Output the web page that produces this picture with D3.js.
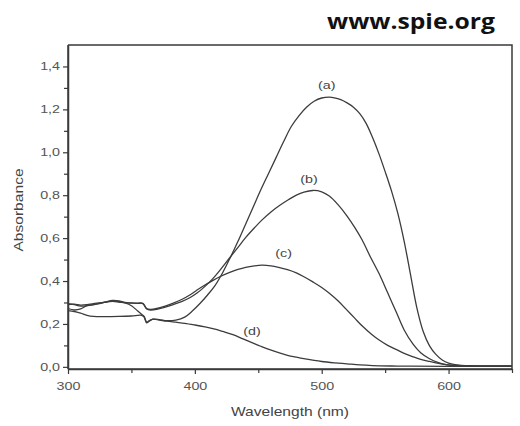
<!DOCTYPE html>
<html>
<head>
<meta charset="utf-8">
<script src="https://cdn.jsdelivr.net/npm/d3@7"></script>
<style>
html,body{margin:0;padding:0;background:#fff;}
svg{display:block;}
</style>
</head>
<body>
<svg id="chart" width="520" height="426"></svg>
<script>
// ---- data ----
const xTicks = [300, 400, 500, 600];
const xMinorTicks = [350, 450, 550, 650];
const yTicks = [0.0, 0.2, 0.4, 0.6, 0.8, 1.0, 1.2, 1.4];
const yMinorTicks = [0.1, 0.3, 0.5, 0.7, 0.9, 1.1, 1.3];
const seriesNames = ["(a)", "(b)", "(c)", "(d)"];

const wlA = [300,305,310,315,320,325,330,335,340,345,350,355,358,360,362,364,367,372,378,385,392,398,404,410,416,422,428,434,440,446,452,458,464,470,476,482,488,494,500,506,510,515,520,525,530,535,540,545,550,555,560,565,570,575,580,585,590,595,600,605,610,620,630,640,650];
const absA = [0.272,0.265,0.27,0.285,0.29,0.295,0.303,0.308,0.305,0.298,0.285,0.26,0.245,0.235,0.208,0.215,0.222,0.22,0.215,0.218,0.232,0.26,0.295,0.335,0.38,0.44,0.51,0.585,0.665,0.745,0.825,0.9,0.975,1.05,1.12,1.17,1.21,1.238,1.253,1.257,1.254,1.245,1.23,1.21,1.18,1.135,1.07,0.995,0.91,0.82,0.715,0.585,0.43,0.275,0.165,0.098,0.058,0.032,0.017,0.01,0.007,0.005,0.004,0.004,0.004];

const wlB = [300,305,310,315,320,325,330,335,340,345,350,355,359,362,365,370,376,383,390,396,402,408,414,420,427,434,440,447,453,460,467,474,480,486,493,500,506,513,520,526,532,538,545,552,559,565,572,578,585,592,598,605,615,630,650];
const absB = [0.29,0.292,0.288,0.29,0.295,0.298,0.302,0.31,0.308,0.3,0.298,0.296,0.295,0.27,0.265,0.268,0.277,0.29,0.305,0.322,0.345,0.375,0.41,0.452,0.505,0.557,0.602,0.648,0.685,0.722,0.753,0.78,0.8,0.814,0.822,0.816,0.796,0.755,0.703,0.65,0.59,0.517,0.437,0.345,0.252,0.172,0.106,0.066,0.038,0.02,0.01,0.006,0.004,0.003,0.003];

const wlC = [300,305,310,315,320,325,330,335,340,345,350,355,359,362,365,370,376,383,390,396,401,407,414,420,427,434,440,447,453,460,466,473,480,486,493,500,506,513,519,526,532,539,545,552,559,565,572,578,585,592,598,605,615,630,650];
const absC = [0.295,0.29,0.283,0.285,0.29,0.297,0.302,0.305,0.302,0.298,0.297,0.297,0.296,0.272,0.268,0.272,0.282,0.297,0.315,0.335,0.355,0.378,0.402,0.421,0.439,0.454,0.464,0.471,0.474,0.471,0.464,0.453,0.438,0.42,0.396,0.37,0.343,0.307,0.27,0.227,0.19,0.153,0.126,0.1,0.08,0.063,0.047,0.035,0.025,0.016,0.01,0.006,0.004,0.003,0.003];

const wlD = [300,305,310,315,320,330,340,350,358,360,362,364,367,372,378,385,392,400,408,415,422,430,438,445,452,459,466,473,480,487,494,500,510,520,530,540,555,570,600,650];
const absD = [0.262,0.258,0.25,0.24,0.235,0.234,0.235,0.237,0.24,0.232,0.205,0.213,0.222,0.218,0.213,0.208,0.203,0.195,0.186,0.177,0.165,0.15,0.13,0.113,0.096,0.08,0.066,0.054,0.045,0.037,0.03,0.025,0.019,0.014,0.009,0.006,0.004,0.003,0.002,0.002];

// label anchor positions in data units (wavelength, absorbance)
const labelWl = [504, 490, 470, 445];
const labelAbs = [1.295, 0.855, 0.51, 0.148];

// ---- layout ----
const svg = d3.select("#chart");
const mLeft = 68, mRight = 512, mTop = 45, mBottom = 369;
const x = d3.scaleLinear().domain([300, 650]).range([mLeft, mRight]);
const y = d3.scaleLinear().domain([-0.01, 1.5]).range([mBottom, mTop]);
const SX = 1.3;
const fontFam = "'Liberation Sans', Arial, sans-serif";
const axisCol = "#3a3a3a";

function stretchedText(g, txt, tx, ty, anchor, size, color, rot) {
  const r = rot ? ` rotate(${rot})` : "";
  return g.append("text")
    .attr("transform", `translate(${tx},${ty})${r} scale(${SX},1)`)
    .attr("text-anchor", anchor)
    .attr("font-family", fontFam)
    .attr("font-size", size)
    .attr("fill", color)
    .text(txt);
}

// frame (top and right borders)
svg.append("path")
  .attr("d", `M${mLeft},${mTop}H${mRight}V${mBottom}`)
  .attr("fill", "none").attr("stroke", axisCol).attr("stroke-width", 1.5);

// curves
const line = d3.line().x(d => x(d[0])).y(d => y(d[1])).curve(d3.curveCatmullRom.alpha(0.5));
const series = [[wlA, absA], [wlB, absB], [wlC, absC], [wlD, absD]];
const plot = svg.append("g");
series.forEach(([wl, ab]) => {
  plot.append("path")
    .datum(wl.map((w, i) => [w, ab[i]]))
    .attr("d", line)
    .attr("fill", "none")
    .attr("stroke", "#3c3c3c")
    .attr("stroke-width", 1.3)
    .attr("stroke-linejoin", "round");
});

// series labels
seriesNames.forEach((n, i) => {
  stretchedText(svg, n, x(labelWl[i]), y(labelAbs[i]), "middle", 11, "#444");
});

// axes
const fmt = d => d3.format(".1f")(d).replace(".", ",");
const gx = svg.append("g").attr("transform", `translate(0,${mBottom})`)
  .call(d3.axisBottom(x).tickValues(xTicks).tickSize(5).tickSizeOuter(0).tickPadding(8));
const gxm = svg.append("g").attr("transform", `translate(0,${mBottom})`)
  .call(d3.axisBottom(x).tickValues(xMinorTicks).tickSize(4).tickSizeOuter(0).tickFormat(""));
const gy = svg.append("g").attr("transform", `translate(${mLeft},0)`)
  .call(d3.axisLeft(y).tickValues(yTicks).tickSize(5).tickSizeOuter(0).tickPadding(3).tickFormat(fmt));
const gym = svg.append("g").attr("transform", `translate(${mLeft},0)`)
  .call(d3.axisLeft(y).tickValues(yMinorTicks).tickSize(4).tickSizeOuter(0).tickFormat(""));

[gx, gxm, gy, gym].forEach(g => {
  g.selectAll("path.domain").attr("stroke", axisCol).attr("stroke-width", 1.5);
  g.selectAll(".tick line").attr("stroke", axisCol).attr("stroke-width", 1.2);
});
gx.select("path.domain").attr("d", `M${mLeft},0H${mRight}`);
gy.select("path.domain").attr("d", `M0,${mTop}V${mBottom}`);

gx.selectAll(".tick text")
  .attr("font-family", fontFam).attr("font-size", 11).attr("fill", "#555")
  .attr("transform", `scale(${SX},1)`)
  .attr("dy", "0.71em");
gy.selectAll(".tick text")
  .attr("font-family", fontFam).attr("font-size", 11).attr("fill", "#555")
  .attr("x", -8 / SX)
  .attr("transform", `scale(${SX},1)`);

// axis titles
stretchedText(svg, "Wavelength (nm)", (mLeft + mRight) / 2, 416, "middle", 12, "#444");
stretchedText(svg, "Absorbance", 23, 210, "middle", 12, "#444", -90);

// watermark
svg.append("text")
  .attr("x", 327).attr("y", 29)
  .attr("textLength", 168)
  .attr("lengthAdjust", "spacingAndGlyphs")
  .attr("font-family", "'Open Sans', 'DejaVu Sans', sans-serif")
  .attr("font-weight", "bold")
  .attr("font-size", 22)
  .attr("fill", "#111")
  .text("www.spie.org");
</script>
</body>
</html>
